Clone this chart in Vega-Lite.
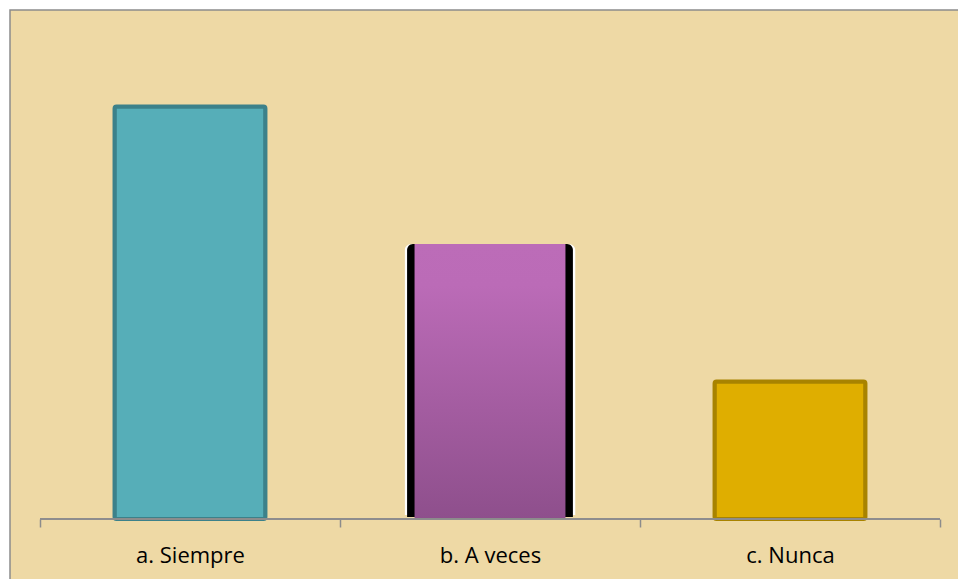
{
  "$schema": "https://vega.github.io/schema/vega-lite/v6.json",
  "width": 950,
  "height": 571,
  "autosize": {"type": "none"},
  "padding": {"left": 10, "top": 10, "right": 0, "bottom": 0},
  "background": "#ffffff",
  "config": {
    "view": {"fill": "#eed9a5", "stroke": "#8c8c8c", "strokeWidth": 1.5}
  },
  "data": {
    "values": [
      {"categoria": "a. Siempre", "valor": 3},
      {"categoria": "b. A veces", "valor": 2},
      {"categoria": "c. Nunca", "valor": 1}
    ]
  },
  "encoding": {
    "x": {
      "field": "categoria",
      "type": "nominal",
      "sort": null,
      "scale": {"domain": ["a. Siempre", "b. A veces", "c. Nunca"], "paddingInner": 0, "paddingOuter": 0.0833, "align": 0.6},
      "axis": {
        "title": null,
        "domain": false,
        "grid": false,
        "ticks": true,
        "tickBand": "extent",
        "tickColor": "#8c8c8c",
        "tickWidth": 1.5,
        "tickSize": 8,
        "labelFont": "Open Sans",
        "labelFontSize": 22,
        "labelColor": "#000000",
        "labelPadding": 35,
        "labelBaseline": "alphabetic",
        "labelAngle": 0,
        "offset": -62
      }
    },
    "y": {
      "field": "valor",
      "type": "quantitative",
      "scale": {"domain": [-0.4509, 3.7018], "nice": false, "zero": false},
      "axis": null
    }
  },
  "layer": [
    {
      "transform": [{"filter": "datum.categoria != 'b. A veces'"}],
      "mark": {"type": "bar", "width": {"band": 0.503}, "strokeWidth": 4, "cornerRadius": 2},
      "encoding": {
        "fill": {"field": "categoria", "type": "nominal", "scale": {"domain": ["a. Siempre", "c. Nunca"], "range": ["#56aeb8", "#dfae00"]}, "legend": null},
        "stroke": {"field": "categoria", "type": "nominal", "scale": {"domain": ["a. Siempre", "c. Nunca"], "range": ["#3c818a", "#a88300"]}, "legend": null}
      }
    },
    {
      "transform": [{"filter": "datum.categoria == 'b. A veces'"}],
      "mark": {"type": "bar", "width": {"band": 0.57}, "fill": "#ffffff", "yOffset": -4, "cornerRadiusTopLeft": 7, "cornerRadiusTopRight": 7}
    },
    {
      "transform": [{"filter": "datum.categoria == 'b. A veces'"}],
      "mark": {"type": "bar", "width": {"band": 0.553}, "fill": "#000000", "yOffset": -2, "cornerRadiusTopLeft": 6, "cornerRadiusTopRight": 6}
    },
    {
      "transform": [{"filter": "datum.categoria == 'b. A veces'"}],
      "mark": {
        "type": "bar",
        "width": {"band": 0.503},
        "fill": {
          "gradient": "linear",
          "x1": 0, "y1": 0, "x2": 0, "y2": 1,
          "stops": [
            {"offset": 0, "color": "#bc6cb8"},
            {"offset": 0.15, "color": "#bb6bb7"},
            {"offset": 1, "color": "#8e4f8c"}
          ]
        }
      }
    },
    {
      "mark": {"type": "rule", "color": "#8c8c8c", "strokeWidth": 1.5},
      "encoding": {
        "x": {"datum": "a. Siempre", "bandPosition": 0},
        "x2": {"datum": "c. Nunca", "bandPosition": 1},
        "y": {"datum": 0}
      }
    }
  ]
}
